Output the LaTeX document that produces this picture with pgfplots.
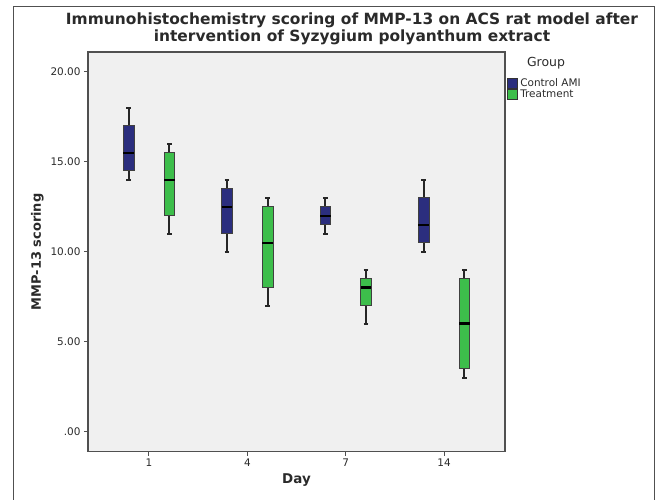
\documentclass[border=0pt]{standalone}
\usepackage{pgfplots}
\pgfplotsset{compat=1.18}
\usepgfplotslibrary{statistics}
\usepackage{fontspec}
\setmainfont{DejaVu Sans}
\definecolor{cblue}{HTML}{2B2E7E}
\definecolor{cgreen}{HTML}{3DBE4B}
\definecolor{bg}{HTML}{F0F0F0}
\definecolor{axc}{HTML}{505050}
\definecolor{txt}{HTML}{2A2A2A}
\pgfplotsset{sq/.style={legend image code/.code={\draw[##1] (0bp,-4.8bp) rectangle (9.6bp,4.8bp);}}}
\begin{document}
\begin{tikzpicture}[x=1bp,y=1bp]
\path[use as bounding box] (0,0) rectangle (660,500);
\draw[axc, line width=1bp] (13,0) -- (13,493) -- (654,493) -- (654,0);
\begin{axis}[
  at={(88bp,48.3bp)}, anchor=south west,
  scale only axis, width=417bp, height=399.7bp,
  xmin=-0.62, xmax=3.62, ymin=-1.11, ymax=21.1,
  axis background/.style={fill=bg},
  axis line style={axc, line width=1.1bp},
  tick pos=left, tick align=outside,
  major tick length=4bp,
  every tick/.style={axc, line width=1bp},
  xtick={0,1,2,3}, xticklabels={1,4,7,14},
  ytick={0,5,10,15,20}, yticklabels={.00,5.00,10.00,15.00,20.00},
  /pgf/number format/assume math mode=true,
  ticklabel style={font=\fontsize{10.5}{12}\selectfont, text=txt},
  xlabel={\textbf{Day}}, ylabel={\textbf{MMP-13 scoring}},
  xlabel style={font=\fontsize{13.5}{15}\selectfont, text=txt},
  ylabel style={font=\fontsize{13}{15}\selectfont, text=txt},
  boxplot/draw direction=y,
  boxplot/box extend=0.107,
  boxplot/whisker extend=0.045,
  boxplot/every median/.style={black, line width=2.5bp},
  boxplot/every whisker/.style={black!85, line width=2bp},
  boxplot/every box/.style={draw=black!75, line width=0.7bp},
  legend style={at={(1.0,0.935)}, xshift=2bp, anchor=north west, draw=none, fill=none,
    font=\fontsize{10.5}{11}\selectfont, text=txt, inner sep=0bp,
    row sep=0bp, column sep=2.5bp, nodes={inner sep=0.6bp}},
  legend cell align=left,
]
\addlegendimage{sq, fill=cblue, draw=black!80}
\addlegendentry{Control AMI}
\addlegendimage{sq, fill=cgreen, draw=black!80}
\addlegendentry{Treatment}
% Control AMI
\addplot[fill=cblue, boxplot prepared={draw position=-0.207, lower whisker=14, lower quartile=14.5, median=15.5, upper quartile=17, upper whisker=18}] coordinates {};
\addplot[fill=cblue, boxplot prepared={draw position=0.793, lower whisker=10, lower quartile=11, median=12.5, upper quartile=13.5, upper whisker=14}] coordinates {};
\addplot[fill=cblue, boxplot prepared={draw position=1.793, lower whisker=11, lower quartile=11.5, median=12, upper quartile=12.5, upper whisker=13}] coordinates {};
\addplot[fill=cblue, boxplot prepared={draw position=2.793, lower whisker=10, lower quartile=10.5, median=11.5, upper quartile=13, upper whisker=14}] coordinates {};
% Treatment
\addplot[fill=cgreen, boxplot prepared={draw position=0.207, lower whisker=11, lower quartile=12, median=14, upper quartile=15.5, upper whisker=16}] coordinates {};
\addplot[fill=cgreen, boxplot prepared={draw position=1.207, lower whisker=7, lower quartile=8, median=10.5, upper quartile=12.5, upper whisker=13}] coordinates {};
\addplot[fill=cgreen, boxplot prepared={draw position=2.207, lower whisker=6, lower quartile=7, median=8, upper quartile=8.5, upper whisker=9}] coordinates {};
\addplot[fill=cgreen, boxplot prepared={draw position=3.207, lower whisker=3, lower quartile=3.5, median=6, upper quartile=8.5, upper whisker=9}] coordinates {};
\end{axis}
\node[font=\fontsize{12.5}{14}\selectfont, text=txt] at (546,437) {Group};
\node[font=\bfseries\fontsize{15.5}{17}\selectfont, text=txt, align=center] at (352,471) {Immunohistochemistry scoring of MMP-13 on ACS rat model after\\intervention of Syzygium polyanthum extract};
\end{tikzpicture}
\end{document}
